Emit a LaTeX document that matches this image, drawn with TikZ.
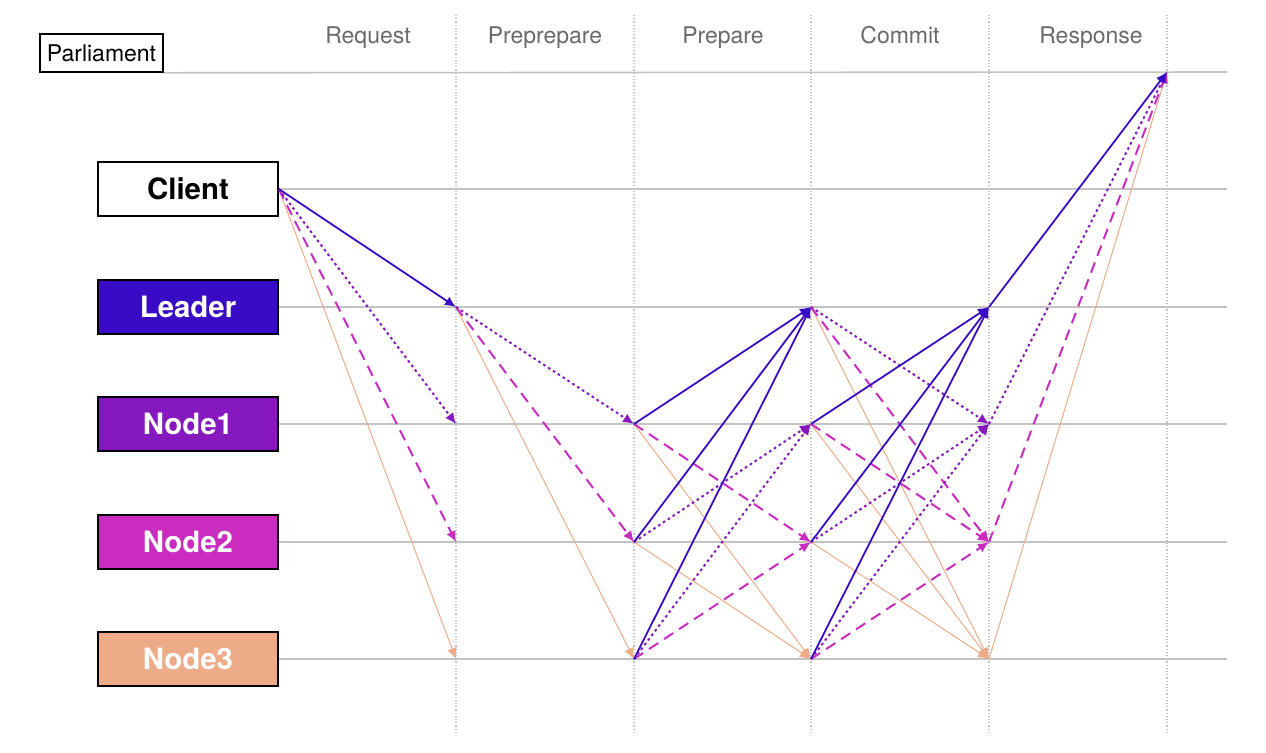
\documentclass[tikz,border=0pt]{standalone}
\usepackage{fontspec}
\setmainfont{TeX Gyre Heros}
\usepackage{tikz}
\usetikzlibrary{arrows.meta}
\definecolor{leadcol}{RGB}{58,11,198}
\definecolor{onecol}{RGB}{133,24,191}
\definecolor{twocol}{RGB}{201,44,191}
\definecolor{threecol}{RGB}{238,171,136}
\definecolor{lanegray}{RGB}{195,195,195}
\definecolor{phasegray}{RGB}{105,105,105}
\tikzstyle{rolebox}=[draw=black,line width=0.8pt,minimum width=90pt,minimum height=27pt,
                inner sep=0,font=\fontsize{14.7}{17}\selectfont\bfseries,text=white]
\tikzstyle{phase}=[text=phasegray,anchor=base,font=\fontsize{11.5}{13}\selectfont]
\tikzstyle{laneline}=[draw=lanegray,line width=0.8pt]
\tikzstyle{phaseline}=[draw=lanegray,line width=0.6pt,dash pattern=on 0.6pt off 1pt]
\tikzstyle{msg}=[-{Latex[length=5.5pt,width=5pt]}]
\tikzstyle{leadmsg}=[msg,draw=leadcol,line width=0.9pt]
\tikzstyle{onemsg}=[msg,draw=onecol,line width=1pt,dash pattern=on 1.3pt off 1.6pt]
\tikzstyle{twomsg}=[msg,draw=twocol,line width=1pt,dash pattern=on 5.5pt off 3.5pt]
\tikzstyle{threemsg}=[msg,draw=threecol,line width=0.5pt]
\begin{document}
\begin{tikzpicture}[x=0.5pt,y=-0.5pt]
\useasboundingbox (0,0) rectangle (1266,752);
\foreach \x in {456,634,811,989,1167}
\draw[phaseline] (\x,15) -- (\x,735);
\node[draw=black,line width=0.8pt,minimum width=61.5pt,minimum height=19pt,inner sep=0,
      font=\fontsize{11.5}{13}\selectfont] (parliament) at (101.5,53) {Parliament};
\node[rolebox,fill=white,text=black] (client) at (188,189) {Client};
\node[rolebox,fill=leadcol] (leader) at (188,307) {Leader};
\node[rolebox,fill=onecol] (node1) at (188,424) {Node1};
\node[rolebox,fill=twocol] (node2) at (188,542) {Node2};
\node[rolebox,fill=threecol] (node3) at (188,659) {Node3};
\draw[laneline] (parliament.south east) -- (1227,72);
\foreach \name/\y in {client/189,leader/307,node1/424,node2/542,node3/659}
\draw[laneline] (\name.east) -- (1227,\y);
\node[phase] (request) at (368,43) {Request};
\node[phase] (preprepare) at (545,43) {Preprepare};
\node[phase] (prepare) at (723,43) {Prepare};
\node[phase] (commit) at (900,43) {Commit};
\node[phase] (response) at (1091,43) {Response};
\foreach \name/\y in {par/72,lead/307,n1/424,n2/542,n3/659}
\foreach \i/\x in {1/456,2/634,3/811,4/989,5/1167}
\coordinate (\name-\i) at (\x,\y);
\draw[threemsg] (client.east) -- (n3-1);
\draw[twomsg] (client.east) -- (n2-1);
\draw[onemsg] (client.east) -- (n1-1);
\draw[leadmsg] (client.east) -- (lead-1);
\draw[threemsg] (lead-1) -- (n3-2);
\draw[twomsg] (lead-1) -- (n2-2);
\draw[onemsg] (lead-1) -- (n1-2);
\draw[threemsg] (n1-2) -- (n3-3);
\draw[threemsg] (n2-2) -- (n3-3);
\draw[twomsg] (n1-2) -- (n2-3);
\draw[twomsg] (n3-2) -- (n2-3);
\draw[onemsg] (n2-2) -- (n1-3);
\draw[onemsg] (n3-2) -- (n1-3);
\foreach \src in {n1,n2,n3}
\draw[leadmsg] (\src-2) -- (lead-3);
\draw[threemsg] (lead-3) -- (n3-4);
\draw[threemsg] (n1-3) -- (n3-4);
\draw[threemsg] (n2-3) -- (n3-4);
\draw[twomsg] (lead-3) -- (n2-4);
\draw[twomsg] (n1-3) -- (n2-4);
\draw[twomsg] (n3-3) -- (n2-4);
\draw[onemsg] (lead-3) -- (n1-4);
\draw[onemsg] (n2-3) -- (n1-4);
\draw[onemsg] (n3-3) -- (n1-4);
\foreach \src in {n1,n2,n3}
\draw[leadmsg] (\src-3) -- (lead-4);
\draw[threemsg] (n3-4) -- (par-5);
\draw[twomsg] (n2-4) -- (par-5);
\draw[onemsg] (n1-4) -- (par-5);
\draw[leadmsg] (lead-4) -- (par-5);
\end{tikzpicture}
\end{document}
